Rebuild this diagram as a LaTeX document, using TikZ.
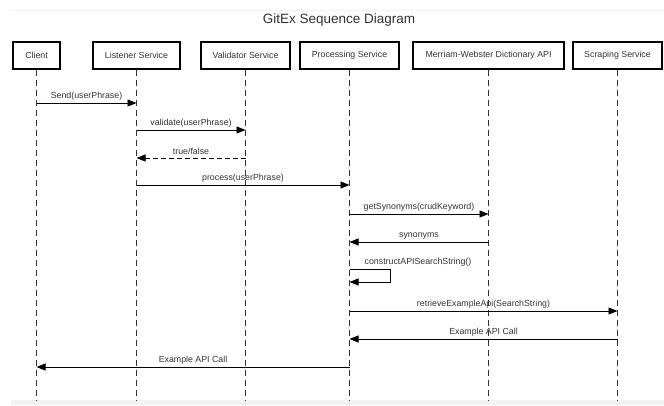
\documentclass[tikz,border=0pt]{standalone}
\usepackage{fontspec}
\setmainfont{Liberation Sans}
\usetikzlibrary{arrows.meta}
\definecolor{txtgray}{HTML}{333333}
\definecolor{framegray}{HTML}{F2F2F2}
\tikzstyle{actor} = [draw=black, line width=1.3pt, rectangle, minimum height=27pt, inner sep=0pt, font=\fontsize{8.8}{10}\selectfont, text=txtgray]
\tikzstyle{lifeline} = [draw=txtgray, line width=0.9pt, dash pattern=on 6pt off 4pt]
\tikzstyle{msg} = [draw=black, line width=0.9pt, ->]
\tikzstyle{reply} = [msg, dash pattern=on 5pt off 3pt]
\tikzstyle{lbl} = [above=1.5pt, inner sep=1pt, font=\fontsize{8.8}{10}\selectfont, text=txtgray]

\begin{document}
\begin{tikzpicture}[x=1pt, y=-1pt, >={Triangle[length=9pt,width=7pt]}]
	\useasboundingbox (0,0) rectangle (664,405);
	% FRAME
	\draw[framegray, line width=0.6pt] (10,10) -- (664,10);
	\fill[framegray] (11,400) rectangle (664,405);

	% TITLE
	\node[font=\fontsize{13.5}{16}\selectfont, text=txtgray] (title) at (339,20) {GitEx Sequence Diagram};

	% PARTICIPANTS
	\node[actor, minimum width=47pt] (client) at (36.5,55.5) {Client};
	\node[actor, minimum width=87pt] (listener) at (136.5,55.5) {Listener Service};
	\node[actor, minimum width=89pt] (validator) at (245.5,55.5) {Validator Service};
	\node[actor, minimum width=99pt] (proc) at (349.5,55.5) {Processing Service};
	\node[actor, minimum width=151pt] (mw) at (488.5,55.5) {Merriam-Webster Dictionary API};
	\node[actor, minimum width=89pt] (scraper) at (617.5,55.5) {Scraping Service};

	% LIFELINES
	\foreach \p in {client,listener,validator,proc,mw,scraper}
		\draw[lifeline] (\p.south) -- (\p |- 0,401);

	% MESSAGES
	\draw[msg] (client |- 0,103) -- node[lbl] {Send(userPhrase)} (listener |- 0,103);
	\draw[msg] (listener |- 0,130) -- node[lbl] {validate(userPhrase)} (validator |- 0,130);
	\draw[reply] (validator |- 0,158) -- node[lbl] {true/false} (listener |- 0,158);
	\draw[msg] (listener |- 0,185) -- node[lbl] {process(userPhrase)} (proc |- 0,185);
	\draw[msg] (proc |- 0,214) -- node[lbl] {getSynonyms(crudKeyword)} (mw |- 0,214);
	\draw[msg] (mw |- 0,242) -- node[lbl] {synonyms} (proc |- 0,242);

	% SELF CALL
	\draw[msg] (proc |- 0,269) -- (390,269) -- (390,282) -- (proc |- 0,282);
	\node[lbl, above=0pt] (selflbl) at (418,269) {constructAPISearchString()};

	\draw[msg] (proc |- 0,311) -- node[lbl] {retrieveExampleApi(SearchString)} (scraper |- 0,311);
	\draw[msg] (scraper |- 0,339) -- node[lbl] {Example API Call} (proc |- 0,339);
	\draw[msg] (proc |- 0,367) -- node[lbl] {Example API Call} (client |- 0,367);

\end{tikzpicture}
\end{document}
